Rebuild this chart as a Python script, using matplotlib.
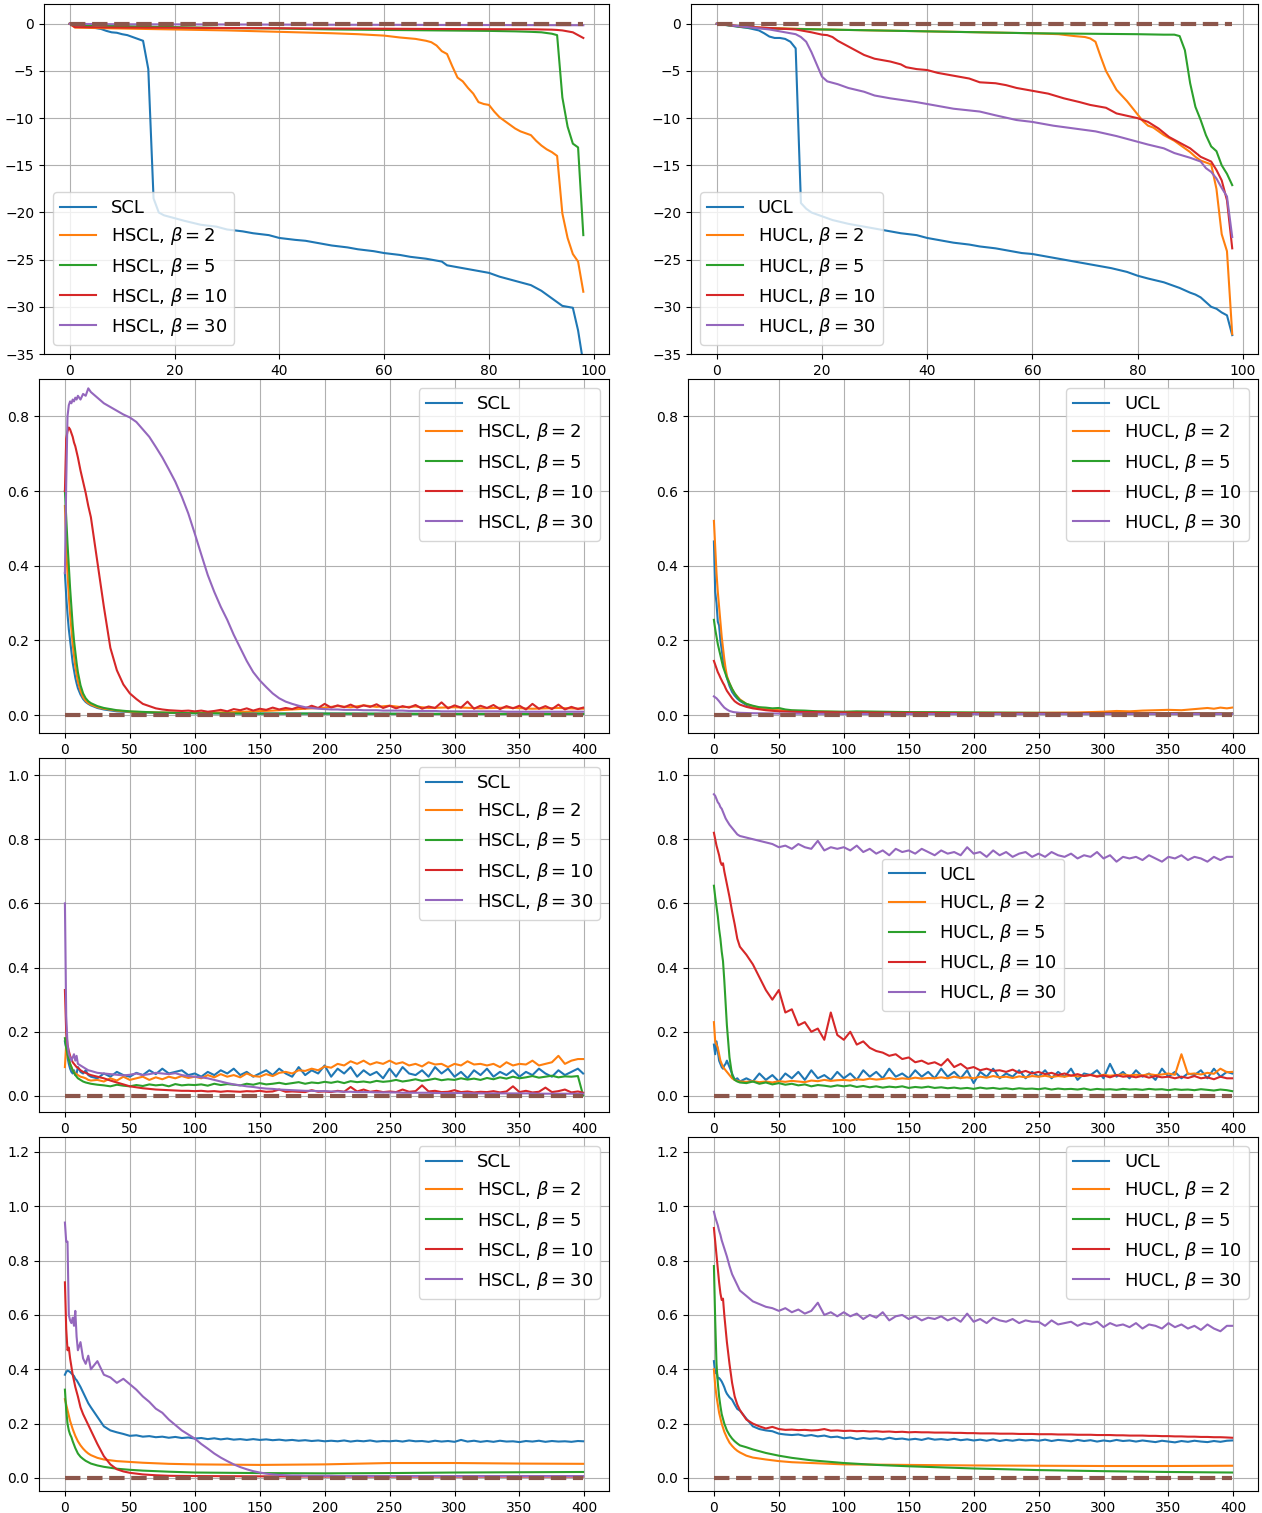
import matplotlib
matplotlib.use("Agg")
import matplotlib.pyplot as plt

# epochs: dense at the start, every 5 epochs afterwards
head_ep = [0, 1, 2, 3, 4, 5, 6, 7, 8, 9, 10, 12, 14, 16, 18, 20]
tail_ep = list(range(25, 400, 5)) + [399]
ep = head_ep + tail_ep

# ---------------- row 1 (0..98) ----------------
r1l_scl_x = [0, 2, 4, 5, 6, 7, 8, 9, 10, 11, 12, 13, 14, 15, 16, 17, 18, 20, 22, 25, 28, 30, 33, 35, 38, 40,
             43, 45, 48, 50, 53, 55, 58, 60, 63, 65, 68, 70, 71, 72, 74, 76, 78, 80, 81, 82, 84, 86, 88, 90,
             91, 92, 93, 94, 95, 96, 97, 98]
r1l_scl_y = [0, -0.15, -0.35, -0.45, -0.55, -0.75, -0.9, -0.95, -1.1, -1.2, -1.4, -1.6, -1.8, -4.8, -18.5,
             -20.0, -20.3, -20.6, -20.9, -21.3, -21.5, -21.8, -22.0, -22.2, -22.4, -22.7, -22.9, -23.0, -23.3,
             -23.5, -23.7, -23.9, -24.1, -24.3, -24.5, -24.7, -24.9, -25.1, -25.2, -25.6, -25.8, -26.0, -26.2,
             -26.4, -26.6, -26.8, -27.1, -27.4, -27.7, -28.3, -28.7, -29.1, -29.5, -29.9, -30.0, -30.1, -32.5,
             -36.0]
r1l_h2_x = [0, 1, 5, 10, 20, 30, 40, 50, 55, 60, 63, 66, 68, 69, 70, 71, 72, 73, 74, 75, 76, 77, 78, 79, 80,
            81, 82, 83, 84, 85, 86, 87, 88, 89, 90, 91, 92, 93, 94, 95, 96, 97, 98]
r1l_h2_y = [0, -0.4, -0.45, -0.5, -0.6, -0.7, -0.85, -1.0, -1.1, -1.25, -1.45, -1.6, -1.8, -1.95, -2.3, -2.9,
            -3.2, -4.5, -5.7, -6.1, -6.8, -7.4, -8.3, -8.5, -8.6, -9.3, -9.9, -10.3, -10.7, -11.1, -11.4,
            -11.6, -11.8, -12.4, -12.9, -13.3, -13.6, -14.0, -20.1, -22.7, -24.4, -25.2, -28.4]
r1l_h5_x = [0, 1, 10, 20, 30, 40, 50, 60, 70, 80, 85, 88, 90, 92, 93, 94, 95, 96, 97, 98]
r1l_h5_y = [0, -0.15, -0.25, -0.35, -0.45, -0.5, -0.6, -0.65, -0.7, -0.75, -0.8, -0.85, -0.9, -1.05, -1.2,
            -7.8, -10.9, -12.7, -13.1, -22.4]
r1l_h10_x = [0, 1, 10, 20, 30, 40, 50, 60, 70, 80, 88, 90, 92, 93, 94, 95, 96, 97, 98]
r1l_h10_y = [0, -0.35, -0.4, -0.42, -0.45, -0.47, -0.5, -0.52, -0.55, -0.57, -0.58, -0.6, -0.62, -0.65, -0.7,
             -0.8, -0.9, -1.2, -1.5]
r1l_h30_x = [0, 10, 30, 50, 70, 90, 98]
r1l_h30_y = [0, -0.05, -0.07, -0.1, -0.12, -0.14, -0.15]

r1r_ucl_x = [0, 2, 4, 6, 8, 9, 10, 11, 12, 13, 14, 15, 16, 17, 18, 20, 22, 25, 28, 30, 33, 35, 38, 40, 43, 45,
             48, 50, 53, 55, 58, 60, 63, 65, 68, 70, 73, 75, 78, 80, 82, 85, 87, 88, 90, 91, 92, 93, 94, 95,
             96, 97, 98]
r1r_ucl_y = [0, -0.15, -0.3, -0.45, -0.7, -1.0, -1.35, -1.5, -1.5, -1.6, -1.9, -2.6, -19.0, -19.6, -20.0,
             -20.4, -20.8, -21.2, -21.5, -21.7, -22.0, -22.2, -22.4, -22.7, -23.0, -23.2, -23.4, -23.6, -23.8,
             -24.0, -24.3, -24.4, -24.7, -24.9, -25.2, -25.4, -25.7, -25.9, -26.3, -26.7, -27.0, -27.4, -27.8,
             -28.0, -28.5, -28.7, -29.0, -29.5, -30.0, -30.2, -30.6, -30.9, -33.0]
r1r_h2_x = [0, 5, 10, 20, 30, 40, 50, 60, 65, 68, 70, 71, 72, 73, 74, 75, 76, 77, 78, 79, 80, 81, 82, 83, 84,
            85, 86, 87, 88, 89, 90, 91, 92, 93, 94, 95, 96, 97, 98]
r1r_h2_y = [0, -0.3, -0.45, -0.6, -0.7, -0.8, -0.9, -1.0, -1.1, -1.3, -1.4, -1.55, -1.9, -3.5, -5.0, -6.0,
            -7.0, -7.6, -8.2, -8.9, -9.6, -10.3, -10.8, -11.0, -11.4, -11.8, -12.1, -12.4, -12.8, -13.2, -13.6,
            -14.1, -14.5, -14.7, -14.9, -17.5, -22.3, -24.1, -32.9]
r1r_h5_x = [0, 5, 10, 20, 30, 40, 50, 60, 70, 80, 85, 87, 88, 89, 90, 91, 92, 93, 94, 95, 96, 97, 98]
r1r_h5_y = [0, -0.35, -0.5, -0.6, -0.7, -0.8, -0.9, -1.0, -1.05, -1.1, -1.15, -1.15, -1.3, -2.8, -6.3, -8.8,
            -10.2, -11.8, -13.0, -13.5, -15.0, -15.9, -17.1]
r1r_h10_x = [0, 5, 10, 15, 18, 20, 21, 22, 23, 24, 26, 28, 30, 33, 35, 36, 38, 40, 42, 45, 48, 50, 53, 55, 57,
             60, 63, 66, 69, 71, 74, 76, 80, 82, 84, 86, 88, 90, 92, 94, 95, 96, 97, 98]
r1r_h10_y = [0, -0.3, -0.45, -0.6, -0.9, -1.15, -1.2, -1.4, -1.8, -2.1, -2.7, -3.3, -3.7, -4.0, -4.3, -4.6,
             -4.8, -4.9, -5.2, -5.5, -5.8, -6.2, -6.3, -6.5, -6.8, -7.1, -7.4, -7.9, -8.3, -8.6, -8.9, -9.5,
             -10.0, -10.4, -11.1, -12.0, -12.6, -13.2, -14.1, -14.6, -15.5, -16.6, -18.7, -23.8]
r1r_h30_x = [0, 5, 10, 13, 15, 16, 17, 18, 19, 20, 21, 23, 25, 28, 30, 33, 38, 42, 45, 50, 53, 57, 60, 64, 68,
             72, 76, 80, 82, 85, 87, 90, 92, 93, 94, 95, 96, 97, 98]
r1r_h30_y = [0, -0.3, -0.6, -0.9, -1.1, -1.4, -1.9, -3.0, -4.3, -5.6, -6.1, -6.4, -6.8, -7.2, -7.6, -7.9, -8.3,
             -8.7, -9.0, -9.3, -9.7, -10.2, -10.4, -10.8, -11.1, -11.4, -11.9, -12.5, -12.8, -13.2, -13.7,
             -14.2, -14.6, -15.3, -15.7, -16.4, -17.4, -18.3, -22.6]

# ---------------- row 2 ----------------
r2l_scl_x = head_ep + [25, 30, 40, 50, 70, 100, 150, 200, 300, 399]
r2l_scl_y = [0.38, 0.32, 0.27, 0.23, 0.2, 0.17, 0.14, 0.12, 0.1, 0.085, 0.072, 0.055, 0.043, 0.035, 0.03, 0.026,
             0.019, 0.015, 0.01, 0.008, 0.006, 0.005, 0.004, 0.004, 0.003, 0.003]
r2l_h2_x = head_ep + [25, 30, 40, 50, 70, 100, 130, 160, 180, 200, 210, 220, 230, 240, 250, 260, 270, 280, 300,
                      320, 340, 360, 380, 399]
r2l_h2_y = [0.56, 0.45, 0.38, 0.32, 0.27, 0.23, 0.19, 0.16, 0.13, 0.11, 0.09, 0.065, 0.048, 0.038, 0.032, 0.028,
            0.021, 0.017, 0.012, 0.009, 0.007, 0.006, 0.008, 0.012, 0.016, 0.02, 0.024, 0.021, 0.026, 0.022,
            0.025, 0.021, 0.023, 0.019, 0.021, 0.018, 0.02, 0.017, 0.019, 0.017]
r2l_h5_x = head_ep + [25, 30, 40, 50, 70, 100, 150, 200, 300, 399]
r2l_h5_y = [0.6, 0.53, 0.46, 0.4, 0.34, 0.29, 0.24, 0.2, 0.17, 0.14, 0.115, 0.08, 0.058, 0.045, 0.037, 0.032,
            0.024, 0.019, 0.013, 0.01, 0.007, 0.005, 0.004, 0.004, 0.003, 0.003]
r2l_h10_y = ([0.6, 0.74, 0.76, 0.77, 0.765, 0.755, 0.745, 0.73, 0.72, 0.705, 0.69, 0.655, 0.625, 0.595, 0.56, 0.53]
             + [0.41, 0.29, 0.18, 0.12, 0.082, 0.058, 0.043, 0.03, 0.024, 0.018, 0.015, 0.013, 0.012, 0.011, 0.012]
             + [0.01, 0.012, 0.009, 0.011, 0.014, 0.01, 0.016, 0.013, 0.018, 0.012, 0.017, 0.014, 0.02, 0.015, 0.019]
             + [0.016, 0.022, 0.018, 0.025, 0.019, 0.03, 0.02, 0.026, 0.021, 0.028, 0.02, 0.026, 0.022, 0.029, 0.019]
             + [0.025, 0.018, 0.024, 0.02, 0.027, 0.017, 0.023, 0.019, 0.034, 0.018, 0.026, 0.02, 0.036, 0.017, 0.025]
             + [0.019, 0.027, 0.016, 0.024, 0.018, 0.025, 0.015, 0.03, 0.017, 0.024, 0.016, 0.028, 0.015, 0.022, 0.016]
             + [0.02])
r2l_h30_y = ([0.38, 0.62, 0.8, 0.83, 0.84, 0.835, 0.845, 0.84, 0.85, 0.845, 0.855, 0.845, 0.86, 0.855, 0.875, 0.865]
             + [0.85, 0.835, 0.825, 0.815, 0.805, 0.797, 0.785, 0.765, 0.745, 0.718, 0.69, 0.658, 0.625, 0.585, 0.54]
             + [0.486, 0.43, 0.375, 0.33, 0.29, 0.255, 0.215, 0.18, 0.145, 0.115, 0.093, 0.075, 0.058, 0.045, 0.036]
             + [0.03, 0.025, 0.021, 0.019, 0.017, 0.016, 0.015, 0.015, 0.014, 0.014, 0.014, 0.013, 0.013, 0.013, 0.012]
             + [0.012, 0.012, 0.012, 0.011, 0.011, 0.011, 0.011, 0.011, 0.01, 0.01, 0.01, 0.01, 0.01, 0.01, 0.01]
             + [0.01, 0.01, 0.01, 0.009, 0.009, 0.009, 0.009, 0.009, 0.009, 0.009, 0.009, 0.009, 0.009, 0.009, 0.009]
             + [0.009])

r2r_ucl_x = head_ep + [25, 30, 40, 50, 70, 100, 150, 200, 300, 399]
r2r_ucl_y = [0.465, 0.33, 0.3, 0.25, 0.24, 0.2, 0.175, 0.15, 0.13, 0.115, 0.1, 0.078, 0.062, 0.052, 0.044, 0.038,
             0.027, 0.021, 0.015, 0.012, 0.009, 0.007, 0.006, 0.005, 0.005, 0.004]
r2r_h2_x = head_ep + [25, 30, 40, 50, 70, 100, 150, 200, 250, 280, 300, 310, 320, 330, 340, 350, 360, 370, 380,
                      385, 390, 395, 399]
r2r_h2_y = [0.52, 0.45, 0.38, 0.33, 0.29, 0.25, 0.21, 0.18, 0.15, 0.125, 0.105, 0.085, 0.07, 0.058, 0.05, 0.042,
            0.03, 0.023, 0.017, 0.013, 0.01, 0.008, 0.007, 0.006, 0.006, 0.007, 0.009, 0.011, 0.01, 0.012, 0.013,
            0.014, 0.013, 0.016, 0.019, 0.017, 0.02, 0.018, 0.02]
r2r_h5_x = head_ep + [25, 30, 35, 40, 45, 50, 55, 60, 70, 80, 100, 110, 150, 200, 250, 300, 399]
r2r_h5_y = [0.255, 0.23, 0.21, 0.19, 0.175, 0.16, 0.145, 0.13, 0.12, 0.11, 0.1, 0.085, 0.07, 0.058, 0.048, 0.04,
            0.03, 0.025, 0.021, 0.02, 0.018, 0.019, 0.015, 0.013, 0.012, 0.01, 0.009, 0.01, 0.008, 0.007, 0.006,
            0.005, 0.004]
r2r_h10_x = head_ep + [25, 30, 40, 50, 70, 100, 200, 399]
r2r_h10_y = [0.145, 0.135, 0.125, 0.115, 0.108, 0.1, 0.093, 0.086, 0.08, 0.072, 0.065, 0.055, 0.045, 0.037,
             0.032, 0.028, 0.022, 0.018, 0.013, 0.01, 0.008, 0.007, 0.005, 0.004]
r2r_h30_x = [0, 2, 4, 6, 8, 10, 12, 15, 20, 30, 50, 100, 399]
r2r_h30_y = [0.05, 0.045, 0.037, 0.028, 0.02, 0.015, 0.011, 0.008, 0.006, 0.005, 0.004, 0.003, 0.003]

# ---------------- row 3 (all on ep) ----------------
r3l_scl_y = ([0.17, 0.15, 0.12, 0.1, 0.085, 0.075, 0.07, 0.08, 0.065, 0.07, 0.09, 0.075, 0.07, 0.08, 0.065, 0.06]
             + [0.055, 0.07, 0.06, 0.075, 0.065, 0.06, 0.072, 0.065, 0.08, 0.068, 0.085, 0.07, 0.075, 0.08, 0.065]
             + [0.07, 0.06, 0.075, 0.065, 0.08, 0.07, 0.085, 0.065, 0.075, 0.06, 0.07, 0.08, 0.065, 0.085, 0.07]
             + [0.06, 0.09, 0.065, 0.08, 0.07, 0.095, 0.06, 0.085, 0.07, 0.09, 0.06, 0.08, 0.065, 0.075, 0.055]
             + [0.085, 0.06, 0.09, 0.07, 0.065, 0.08, 0.06, 0.09, 0.07, 0.085, 0.06, 0.075, 0.055, 0.08, 0.065]
             + [0.085, 0.06, 0.075, 0.065, 0.08, 0.06, 0.075, 0.065, 0.085, 0.07, 0.06, 0.08, 0.065, 0.075, 0.085]
             + [0.07])
r3l_h2_y = ([0.09, 0.16, 0.14, 0.12, 0.1, 0.09, 0.08, 0.075, 0.07, 0.068, 0.065, 0.06, 0.058, 0.055, 0.05, 0.048]
            + [0.05, 0.045, 0.055, 0.048, 0.06, 0.05, 0.055, 0.06, 0.05, 0.058, 0.052, 0.06, 0.055, 0.062, 0.056]
            + [0.06, 0.055, 0.065, 0.058, 0.068, 0.06, 0.065, 0.058, 0.07, 0.062, 0.06, 0.068, 0.062, 0.072, 0.075]
            + [0.07, 0.08, 0.078, 0.085, 0.08, 0.092, 0.088, 0.1, 0.095, 0.108, 0.1, 0.11, 0.098, 0.105, 0.1]
            + [0.11, 0.1, 0.105, 0.095, 0.1, 0.092, 0.105, 0.098, 0.1, 0.09, 0.1, 0.095, 0.108, 0.098, 0.1]
            + [0.095, 0.1, 0.09, 0.105, 0.095, 0.1, 0.098, 0.11, 0.095, 0.1, 0.105, 0.125, 0.1, 0.11, 0.115]
            + [0.115])
r3l_h5_y = ([0.18, 0.15, 0.13, 0.115, 0.1, 0.09, 0.08, 0.072, 0.065, 0.06, 0.055, 0.05, 0.045, 0.042, 0.04, 0.038]
            + [0.035, 0.033, 0.03, 0.035, 0.032, 0.03, 0.034, 0.031, 0.036, 0.033, 0.035, 0.03, 0.037, 0.033, 0.035]
            + [0.034, 0.036, 0.032, 0.038, 0.034, 0.037, 0.035, 0.033, 0.038, 0.035, 0.04, 0.036, 0.038, 0.041, 0.037]
            + [0.04, 0.043, 0.038, 0.042, 0.04, 0.044, 0.041, 0.045, 0.04, 0.046, 0.043, 0.045, 0.042, 0.047, 0.044]
            + [0.046, 0.05, 0.045, 0.048, 0.052, 0.047, 0.05, 0.054, 0.049, 0.052, 0.05, 0.055, 0.051, 0.054, 0.05]
            + [0.056, 0.052, 0.058, 0.054, 0.06, 0.055, 0.058, 0.062, 0.057, 0.06, 0.063, 0.058, 0.061, 0.06, 0.062]
            + [0.002])
r3l_h10_y = ([0.33, 0.2, 0.16, 0.14, 0.125, 0.115, 0.105, 0.1, 0.095, 0.09, 0.088, 0.08, 0.075, 0.072, 0.068, 0.065]
             + [0.06, 0.055, 0.048, 0.042, 0.036, 0.03, 0.027, 0.024, 0.022, 0.02, 0.019, 0.018, 0.017, 0.016, 0.016]
             + [0.015, 0.016, 0.014, 0.015, 0.013, 0.015, 0.014, 0.013, 0.015, 0.014, 0.016, 0.013, 0.014, 0.02, 0.013]
             + [0.014, 0.013, 0.012, 0.018, 0.013, 0.014, 0.012, 0.016, 0.013, 0.028, 0.014, 0.02, 0.013, 0.016, 0.012]
             + [0.014, 0.012, 0.02, 0.013, 0.015, 0.033, 0.014, 0.016, 0.012, 0.013, 0.018, 0.012, 0.014, 0.011, 0.013]
             + [0.012, 0.015, 0.011, 0.014, 0.03, 0.012, 0.016, 0.011, 0.013, 0.026, 0.012, 0.015, 0.02, 0.011, 0.014]
             + [0.01])
r3l_h30_y = ([0.6, 0.25, 0.16, 0.13, 0.12, 0.11, 0.12, 0.13, 0.11, 0.125, 0.1, 0.095, 0.09, 0.085, 0.08, 0.078]
             + [0.072, 0.07, 0.068, 0.066, 0.064, 0.066, 0.07, 0.065, 0.068, 0.072, 0.07, 0.068, 0.071, 0.065, 0.062]
             + [0.06, 0.058, 0.055, 0.05, 0.045, 0.04, 0.036, 0.033, 0.03, 0.028, 0.025, 0.023, 0.022, 0.02, 0.019]
             + [0.018, 0.017, 0.016, 0.016, 0.015, 0.015, 0.014, 0.014, 0.013, 0.013, 0.012, 0.012, 0.012, 0.011, 0.011]
             + [0.011, 0.011, 0.01, 0.01, 0.01, 0.01, 0.01, 0.009, 0.009, 0.009, 0.009, 0.009, 0.009, 0.008, 0.008]
             + [0.008, 0.008, 0.008, 0.008, 0.008, 0.008, 0.008, 0.008, 0.007, 0.007, 0.007, 0.007, 0.007, 0.007, 0.007]
             + [0.007])

r3r_ucl_y = ([0.16, 0.13, 0.17, 0.14, 0.11, 0.1, 0.09, 0.085, 0.095, 0.1, 0.11, 0.09, 0.07, 0.05, 0.055, 0.045]
             + [0.055, 0.045, 0.07, 0.05, 0.065, 0.045, 0.07, 0.055, 0.075, 0.05, 0.08, 0.055, 0.065, 0.05, 0.075]
             + [0.055, 0.07, 0.05, 0.08, 0.06, 0.075, 0.055, 0.085, 0.06, 0.07, 0.055, 0.08, 0.06, 0.075, 0.055]
             + [0.085, 0.06, 0.075, 0.055, 0.08, 0.04, 0.075, 0.06, 0.085, 0.055, 0.07, 0.06, 0.08, 0.055, 0.075]
             + [0.06, 0.08, 0.055, 0.075, 0.06, 0.085, 0.05, 0.07, 0.065, 0.08, 0.055, 0.1, 0.06, 0.075, 0.055]
             + [0.08, 0.06, 0.07, 0.05, 0.085, 0.06, 0.075, 0.055, 0.07, 0.065, 0.08, 0.055, 0.085, 0.06, 0.075]
             + [0.07])
r3r_h2_y = ([0.23, 0.17, 0.16, 0.15, 0.13, 0.11, 0.1, 0.09, 0.085, 0.08, 0.075, 0.065, 0.055, 0.05, 0.047, 0.045]
            + [0.044, 0.046, 0.043, 0.045, 0.042, 0.046, 0.044, 0.047, 0.045, 0.043, 0.048, 0.046, 0.05, 0.047, 0.049]
            + [0.05, 0.048, 0.052, 0.05, 0.054, 0.051, 0.053, 0.056, 0.052, 0.055, 0.053, 0.057, 0.054, 0.056, 0.055]
            + [0.058, 0.055, 0.06, 0.056, 0.058, 0.055, 0.06, 0.057, 0.062, 0.058, 0.06, 0.056, 0.061, 0.058, 0.062]
            + [0.06, 0.063, 0.059, 0.062, 0.06, 0.064, 0.061, 0.063, 0.065, 0.062, 0.066, 0.063, 0.065, 0.067, 0.064]
            + [0.066, 0.064, 0.068, 0.065, 0.067, 0.07, 0.066, 0.13, 0.068, 0.07, 0.067, 0.072, 0.069, 0.085, 0.074]
            + [0.075])
r3r_h5_y = ([0.655, 0.62, 0.59, 0.56, 0.52, 0.49, 0.45, 0.42, 0.36, 0.29, 0.22, 0.12, 0.065, 0.05, 0.045, 0.042]
            + [0.04, 0.045, 0.038, 0.042, 0.036, 0.04, 0.035, 0.038, 0.033, 0.036, 0.03, 0.034, 0.032, 0.029, 0.033]
            + [0.03, 0.033, 0.028, 0.031, 0.027, 0.03, 0.026, 0.029, 0.027, 0.03, 0.025, 0.028, 0.026, 0.029, 0.025]
            + [0.027, 0.024, 0.026, 0.023, 0.025, 0.022, 0.026, 0.023, 0.025, 0.022, 0.024, 0.021, 0.024, 0.022, 0.023]
            + [0.021, 0.024, 0.02, 0.023, 0.021, 0.022, 0.02, 0.023, 0.019, 0.022, 0.02, 0.021, 0.019, 0.022, 0.02]
            + [0.021, 0.019, 0.022, 0.02, 0.021, 0.018, 0.021, 0.019, 0.02, 0.018, 0.021, 0.019, 0.017, 0.02, 0.018]
            + [0.015])
r3r_h10_y = ([0.82, 0.8, 0.78, 0.765, 0.75, 0.73, 0.72, 0.725, 0.7, 0.68, 0.66, 0.62, 0.575, 0.535, 0.49, 0.465]
             + [0.44, 0.41, 0.37, 0.33, 0.3, 0.33, 0.26, 0.27, 0.22, 0.23, 0.2, 0.21, 0.175, 0.26, 0.19]
             + [0.175, 0.2, 0.16, 0.17, 0.15, 0.14, 0.135, 0.125, 0.13, 0.115, 0.12, 0.105, 0.11, 0.1, 0.105]
             + [0.095, 0.115, 0.09, 0.1, 0.085, 0.09, 0.08, 0.085, 0.078, 0.08, 0.075, 0.082, 0.072, 0.078, 0.07]
             + [0.075, 0.068, 0.072, 0.065, 0.07, 0.063, 0.068, 0.062, 0.066, 0.06, 0.064, 0.058, 0.065, 0.06, 0.062]
             + [0.058, 0.063, 0.057, 0.062, 0.058, 0.06, 0.055, 0.06, 0.056, 0.062, 0.055, 0.058, 0.052, 0.06, 0.055]
             + [0.055])
r3r_h30_y = ([0.94, 0.935, 0.925, 0.915, 0.91, 0.9, 0.895, 0.885, 0.875, 0.865, 0.858, 0.845, 0.835, 0.825, 0.815, 0.81]
             + [0.805, 0.8, 0.795, 0.79, 0.785, 0.775, 0.78, 0.77, 0.785, 0.775, 0.77, 0.795, 0.765, 0.775, 0.77]
             + [0.775, 0.765, 0.78, 0.76, 0.77, 0.755, 0.765, 0.75, 0.77, 0.76, 0.765, 0.755, 0.77, 0.76, 0.75]
             + [0.765, 0.755, 0.76, 0.75, 0.775, 0.755, 0.76, 0.745, 0.765, 0.75, 0.76, 0.745, 0.755, 0.76, 0.745]
             + [0.755, 0.745, 0.76, 0.75, 0.745, 0.755, 0.74, 0.75, 0.745, 0.76, 0.74, 0.75, 0.73, 0.745, 0.74]
             + [0.745, 0.735, 0.75, 0.74, 0.73, 0.745, 0.74, 0.75, 0.735, 0.745, 0.74, 0.73, 0.745, 0.735, 0.745]
             + [0.745])

# ---------------- row 4 ----------------
r4l_scl_y = ([0.38, 0.39, 0.395, 0.393, 0.39, 0.385, 0.38, 0.375, 0.365, 0.36, 0.352, 0.335, 0.315, 0.295, 0.275, 0.26]
             + [0.225, 0.19, 0.175, 0.168, 0.162, 0.155, 0.157, 0.152, 0.154, 0.15, 0.152, 0.148, 0.151, 0.147, 0.149]
             + [0.145, 0.147, 0.143, 0.146, 0.142, 0.145, 0.141, 0.143, 0.14, 0.143, 0.14, 0.142, 0.139, 0.141, 0.138]
             + [0.14, 0.137, 0.139, 0.136, 0.138, 0.135, 0.137, 0.135, 0.138, 0.134, 0.137, 0.135, 0.138, 0.134, 0.136]
             + [0.135, 0.137, 0.134, 0.138, 0.135, 0.136, 0.133, 0.137, 0.134, 0.136, 0.133, 0.14, 0.134, 0.137, 0.133]
             + [0.136, 0.133, 0.137, 0.134, 0.135, 0.132, 0.136, 0.134, 0.137, 0.133, 0.136, 0.134, 0.135, 0.133, 0.136]
             + [0.135])
r4l_h2_x = [0, 1, 2, 3, 4, 5, 6, 8, 10, 12, 14, 16, 18, 20, 25, 30, 40, 50, 60, 70, 80, 100, 150, 200, 250, 300,
            350, 399]
r4l_h2_y = [0.29, 0.27, 0.25, 0.23, 0.21, 0.195, 0.18, 0.155, 0.135, 0.12, 0.108, 0.098, 0.09, 0.084, 0.074,
            0.068, 0.062, 0.059, 0.056, 0.054, 0.052, 0.05, 0.048, 0.05, 0.055, 0.055, 0.053, 0.052]
r4l_h5_x = [0, 1, 2, 3, 4, 5, 6, 8, 10, 12, 14, 16, 18, 20, 25, 30, 40, 50, 60, 80, 100, 150, 200, 250, 300,
            350, 399]
r4l_h5_y = [0.325, 0.25, 0.2, 0.175, 0.16, 0.15, 0.135, 0.11, 0.09, 0.078, 0.07, 0.063, 0.058, 0.053, 0.046,
            0.041, 0.034, 0.03, 0.027, 0.023, 0.02, 0.018, 0.017, 0.018, 0.02, 0.021, 0.022]
r4l_h10_x = [0, 1, 2, 3, 4, 5, 6, 8, 10, 12, 14, 16, 18, 20, 25, 30, 35, 40, 45, 50, 60, 70, 80, 100, 150, 200,
             399]
r4l_h10_y = [0.72, 0.55, 0.47, 0.48, 0.44, 0.41, 0.38, 0.335, 0.3, 0.26, 0.235, 0.215, 0.195, 0.175, 0.125,
             0.08, 0.05, 0.032, 0.024, 0.019, 0.013, 0.01, 0.008, 0.007, 0.006, 0.005, 0.005]
r4l_h30_y = ([0.94, 0.87, 0.87, 0.6, 0.58, 0.57, 0.59, 0.56, 0.615, 0.52, 0.47, 0.5, 0.44, 0.42, 0.45, 0.4]
             + [0.43, 0.38, 0.37, 0.35, 0.365, 0.345, 0.325, 0.3, 0.28, 0.255, 0.24, 0.215, 0.195, 0.175, 0.16]
             + [0.145, 0.125, 0.108, 0.09, 0.075, 0.062, 0.05, 0.04, 0.032, 0.025, 0.02, 0.016, 0.013, 0.011, 0.01]
             + [0.009, 0.009, 0.008, 0.008, 0.008, 0.008, 0.008, 0.007, 0.007, 0.007, 0.007, 0.007, 0.007, 0.007, 0.007]
             + [0.007, 0.007, 0.007, 0.007, 0.007, 0.007, 0.007, 0.007, 0.007, 0.007, 0.007, 0.007, 0.007, 0.007, 0.007]
             + [0.007, 0.007, 0.007, 0.007, 0.007, 0.007, 0.007, 0.007, 0.007, 0.007, 0.007, 0.007, 0.007, 0.007, 0.007]
             + [0.007])

r4r_ucl_y = ([0.43, 0.385, 0.395, 0.365, 0.368, 0.362, 0.355, 0.345, 0.334, 0.32, 0.31, 0.297, 0.288, 0.27, 0.254, 0.248]
             + [0.218, 0.19, 0.18, 0.175, 0.172, 0.163, 0.16, 0.158, 0.16, 0.155, 0.158, 0.153, 0.156, 0.15, 0.152]
             + [0.146, 0.149, 0.143, 0.147, 0.144, 0.146, 0.142, 0.148, 0.143, 0.145, 0.141, 0.144, 0.14, 0.146, 0.141]
             + [0.143, 0.14, 0.144, 0.139, 0.142, 0.138, 0.141, 0.137, 0.142, 0.136, 0.14, 0.137, 0.141, 0.138, 0.14]
             + [0.137, 0.141, 0.136, 0.14, 0.138, 0.135, 0.14, 0.136, 0.139, 0.134, 0.138, 0.135, 0.14, 0.136, 0.138]
             + [0.134, 0.138, 0.135, 0.132, 0.137, 0.134, 0.131, 0.136, 0.133, 0.137, 0.134, 0.132, 0.136, 0.133, 0.137]
             + [0.138])
r4r_h2_x = [0, 1, 2, 3, 4, 5, 6, 8, 10, 12, 14, 16, 18, 20, 25, 30, 40, 50, 60, 75, 100, 150, 200, 250, 300, 350,
            399]
r4r_h2_y = [0.4, 0.34, 0.3, 0.27, 0.24, 0.22, 0.2, 0.17, 0.148, 0.13, 0.118, 0.108, 0.1, 0.094, 0.082, 0.075,
            0.068, 0.062, 0.058, 0.055, 0.05, 0.048, 0.046, 0.045, 0.044, 0.044, 0.045]
r4r_h5_x = [0, 1, 2, 3, 4, 5, 6, 8, 10, 12, 14, 16, 18, 20, 25, 30, 40, 50, 60, 75, 100, 125, 150, 200, 250, 300,
            350, 399]
r4r_h5_y = [0.78, 0.58, 0.42, 0.35, 0.3, 0.265, 0.235, 0.2, 0.175, 0.158, 0.145, 0.135, 0.127, 0.12, 0.113,
            0.105, 0.092, 0.082, 0.074, 0.065, 0.055, 0.048, 0.043, 0.035, 0.029, 0.025, 0.022, 0.02]
r4r_h10_y = ([0.92, 0.87, 0.82, 0.77, 0.72, 0.68, 0.655, 0.66, 0.6, 0.55, 0.5, 0.42, 0.35, 0.3, 0.27, 0.25]
             + [0.215, 0.2, 0.19, 0.182, 0.188, 0.18, 0.177, 0.178, 0.176, 0.177, 0.175, 0.176, 0.18, 0.174, 0.175]
             + [0.173, 0.174, 0.172, 0.173, 0.171, 0.172, 0.17, 0.171, 0.169, 0.17, 0.168, 0.169, 0.168, 0.168, 0.167]
             + [0.167, 0.167, 0.166, 0.166, 0.165, 0.165, 0.164, 0.164, 0.164, 0.163, 0.163, 0.163, 0.162, 0.162, 0.162]
             + [0.161, 0.161, 0.161, 0.16, 0.16, 0.16, 0.159, 0.159, 0.159, 0.158, 0.158, 0.158, 0.157, 0.157, 0.156]
             + [0.156, 0.156, 0.155, 0.155, 0.154, 0.154, 0.153, 0.153, 0.152, 0.152, 0.151, 0.151, 0.15, 0.15, 0.149]
             + [0.148])
r4r_h30_y = ([0.98, 0.96, 0.945, 0.93, 0.91, 0.895, 0.875, 0.86, 0.845, 0.83, 0.815, 0.78, 0.75, 0.73, 0.71, 0.69]
             + [0.67, 0.65, 0.64, 0.63, 0.625, 0.615, 0.625, 0.61, 0.62, 0.605, 0.615, 0.645, 0.6, 0.61, 0.595]
             + [0.61, 0.595, 0.605, 0.585, 0.6, 0.59, 0.61, 0.58, 0.595, 0.6, 0.585, 0.595, 0.58, 0.59, 0.585]
             + [0.595, 0.58, 0.59, 0.575, 0.605, 0.575, 0.585, 0.57, 0.59, 0.58, 0.575, 0.585, 0.57, 0.58, 0.575]
             + [0.575, 0.56, 0.58, 0.565, 0.57, 0.575, 0.56, 0.57, 0.565, 0.575, 0.555, 0.57, 0.56, 0.565, 0.555]
             + [0.57, 0.55, 0.565, 0.56, 0.55, 0.57, 0.555, 0.565, 0.55, 0.56, 0.545, 0.565, 0.55, 0.54, 0.56]
             + [0.56])

betas = [2, 5, 10, 30]
ylims = [(-35, 2.1), (-0.048, 0.90), (-0.05, 1.053), (-0.048, 1.255)]

panels = [
    # (row, col, [(x, y), ...] for base + 4 betas)
    (0, 0, [(r1l_scl_x, r1l_scl_y), (r1l_h2_x, r1l_h2_y), (r1l_h5_x, r1l_h5_y), (r1l_h10_x, r1l_h10_y),
            (r1l_h30_x, r1l_h30_y)]),
    (0, 1, [(r1r_ucl_x, r1r_ucl_y), (r1r_h2_x, r1r_h2_y), (r1r_h5_x, r1r_h5_y), (r1r_h10_x, r1r_h10_y),
            (r1r_h30_x, r1r_h30_y)]),
    (1, 0, [(r2l_scl_x, r2l_scl_y), (r2l_h2_x, r2l_h2_y), (r2l_h5_x, r2l_h5_y), (ep, r2l_h10_y),
            (ep, r2l_h30_y)]),
    (1, 1, [(r2r_ucl_x, r2r_ucl_y), (r2r_h2_x, r2r_h2_y), (r2r_h5_x, r2r_h5_y), (r2r_h10_x, r2r_h10_y),
            (r2r_h30_x, r2r_h30_y)]),
    (2, 0, [(ep, r3l_scl_y), (ep, r3l_h2_y), (ep, r3l_h5_y), (ep, r3l_h10_y), (ep, r3l_h30_y)]),
    (2, 1, [(ep, r3r_ucl_y), (ep, r3r_h2_y), (ep, r3r_h5_y), (ep, r3r_h10_y), (ep, r3r_h30_y)]),
    (3, 0, [(ep, r4l_scl_y), (r4l_h2_x, r4l_h2_y), (r4l_h5_x, r4l_h5_y), (r4l_h10_x, r4l_h10_y),
            (ep, r4l_h30_y)]),
    (3, 1, [(ep, r4r_ucl_y), (r4r_h2_x, r4r_h2_y), (r4r_h5_x, r4r_h5_y), (ep, r4r_h10_y), (ep, r4r_h30_y)]),
]

# axes boxes in pixels: (left, top, right, bottom)
W, H = 1262, 1513
boxes = {
    (0, 0): (44, 4, 609, 354), (0, 1): (691, 4, 1258, 354),
    (1, 0): (39, 379, 609, 733), (1, 1): (688, 379, 1258, 733),
    (2, 0): (39, 758, 609, 1112), (2, 1): (688, 758, 1258, 1112),
    (3, 0): (39, 1137, 609, 1491), (3, 1): (688, 1137, 1258, 1491),
}

fig = plt.figure(figsize=(W / 100, H / 100), dpi=100)

for row, col, series in panels:
    x0, y0, x1, y1 = boxes[(row, col)]
    ax = fig.add_axes([x0 / W, 1 - y1 / H, (x1 - x0) / W, (y1 - y0) / H])
    base = "SCL" if col == 0 else "UCL"
    labels = [base] + ["H%s, $\\beta = %d$" % (base, b) for b in betas]
    for i, ((xs, ys), lab) in enumerate(zip(series, labels)):
        ax.plot(xs, ys, color="C%d" % i, label=lab)
    last = max(series[0][0])
    ax.plot([0, last], [0, 0], "--", color="C5", linewidth=3)
    ax.grid(True)
    ax.set_ylim(*ylims[row])
    if row == 0:
        loc = "lower left"
    elif row == 2 and col == 1:
        loc = "center"
    else:
        loc = "upper right"
    handles, labs = ax.get_legend_handles_labels()
    ax.legend(handles[:5], labs[:5], loc=loc, fontsize=13, labelspacing=0.45)

fig.savefig("out.png", dpi=100)
